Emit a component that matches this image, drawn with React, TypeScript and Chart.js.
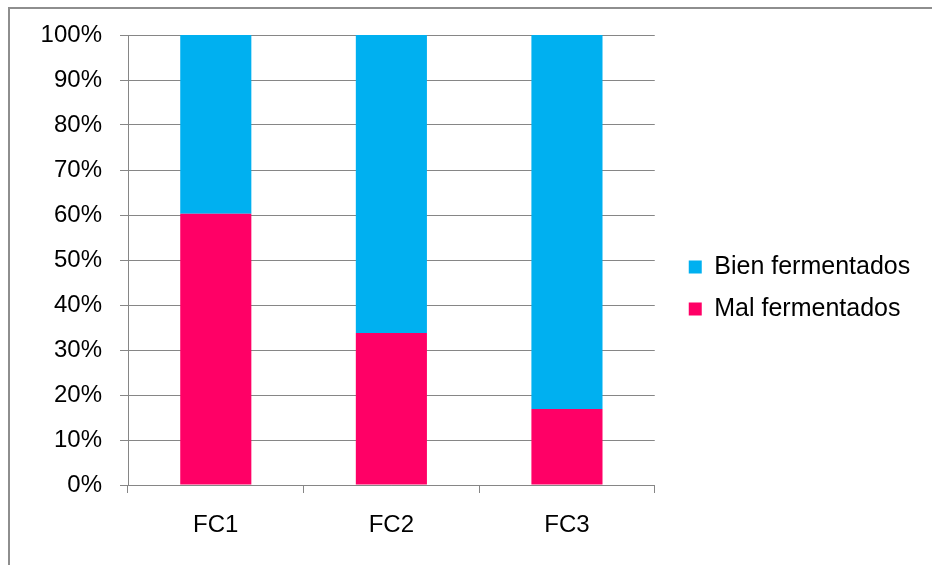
import React, { useEffect, useRef } from "react";
import { Chart, registerables } from "chart.js";

Chart.register(...registerables);

// Fermentation quality per batch, in percent of samples
const categories = ["FC1", "FC2", "FC3"];
const malFermentados = [60.3, 33.8, 16.9];
const bienFermentados = [39.7, 66.2, 83.1];
const seriesNames = ["Mal fermentados", "Bien fermentados"];
const yTickStep = 10;
const yMax = 100;

const FONT = "'Liberation Sans', Arial, Helvetica, sans-serif";
const AXIS_GRAY = "#868686";

// Nudges the legend block to the right and slightly up, keeping the plot area where it is
const legendNudge = {
  id: "legendNudge",
  afterLayout(chart: any) {
    const lg = chart.legend;
    if (lg) {
      lg.left += 17;
      lg.right = chart.width;
      lg.width = lg.right - lg.left;
      lg.top -= 2;
      lg.bottom -= 2;
    }
  },
};

export default function App() {
  const canvasRef = useRef<HTMLCanvasElement | null>(null);

  useEffect(() => {
    if (!canvasRef.current) return;
    const chart = new Chart(canvasRef.current, {
      type: "bar",
      data: {
        labels: categories,
        datasets: [
          {
            label: seriesNames[0],
            data: malFermentados,
            backgroundColor: "#FF0066",
            categoryPercentage: 1,
            barPercentage: 0.405,
          },
          {
            label: seriesNames[1],
            data: bienFermentados,
            backgroundColor: "#00B0F0",
            categoryPercentage: 1,
            barPercentage: 0.405,
          },
        ],
      },
      options: {
        animation: false,
        responsive: false,
        maintainAspectRatio: false,
        layout: { padding: { top: 35, left: 0, right: 59, bottom: 20 } },
        plugins: {
          tooltip: { enabled: false },
          legend: {
            position: "right",
            reverse: true,
            labels: {
              boxWidth: 13,
              boxHeight: 13,
              padding: 17,
              color: "#000",
              font: { family: FONT, size: 25 },
            },
          },
        },
        scales: {
          x: {
            stacked: true,
            grid: {
              display: true,
              drawOnChartArea: false,
              drawTicks: true,
              tickLength: 8,
              color: AXIS_GRAY,
              offset: true,
            },
            border: { display: true, color: AXIS_GRAY },
            ticks: { color: "#000", font: { family: FONT, size: 24 }, padding: 18 },
            afterFit: (s: any) => {
              s.height = 60;
            },
          },
          y: {
            stacked: true,
            min: 0,
            max: yMax,
            grid: { color: AXIS_GRAY, tickLength: 8, drawTicks: true },
            border: { display: true, color: AXIS_GRAY },
            ticks: {
              stepSize: yTickStep,
              color: "#000",
              padding: 18,
              font: { family: FONT, size: 24 },
              callback: (v: any) => v + "%",
            },
            afterFit: (s: any) => {
              s.width = 128;
            },
          },
        },
      },
      plugins: [legendNudge],
    });
    return () => chart.destroy();
  }, []);

  return (
    <div
      style={{
        position: "fixed",
        left: 0,
        top: 0,
        width: 932,
        height: 565,
        overflow: "hidden",
        background: "#fff",
      }}
    >
      <div
        style={{
          position: "absolute",
          left: 8,
          top: 7,
          width: 960,
          height: 600,
          borderLeft: "2px solid #8e8e8e",
          borderTop: "2px solid #8e8e8e",
        }}
      />
      <canvas
        ref={canvasRef}
        width={932}
        height={565}
        style={{ position: "absolute", left: 0, top: 0, width: 932, height: 565 }}
      />
    </div>
  );
}
